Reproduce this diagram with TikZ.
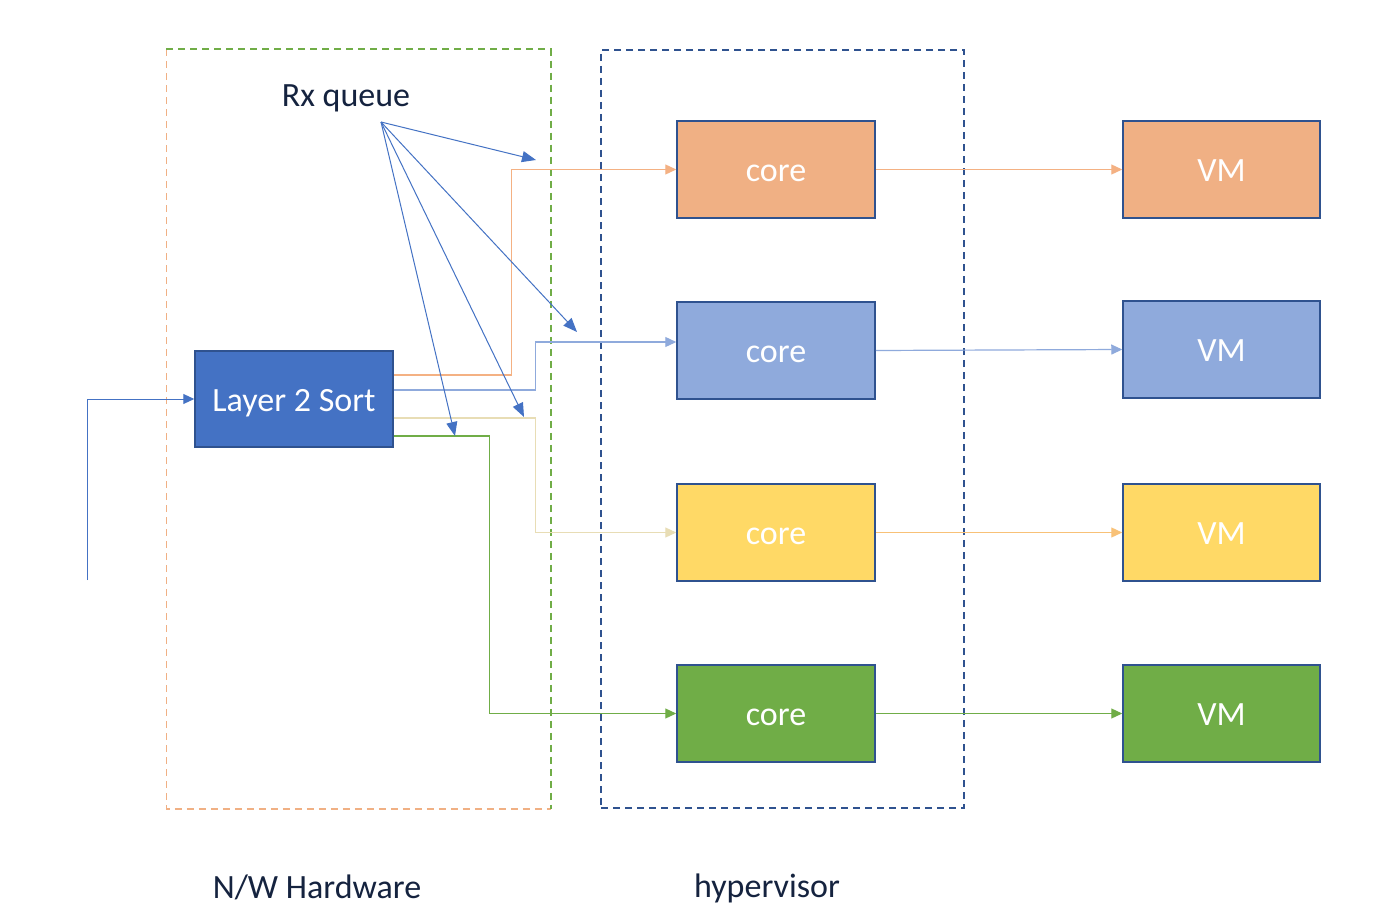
\documentclass[tikz,border=0pt]{standalone}
\usepackage{fontspec}
\setmainfont{Carlito}
\usetikzlibrary{arrows.meta,calc}
\definecolor{corange}{HTML}{F0B084}
\definecolor{cblue}{HTML}{8FAADC}
\definecolor{cyellow}{HTML}{FFD966}
\definecolor{cgreen}{HTML}{70AD47}
\definecolor{sortblue}{HTML}{4472C4}
\definecolor{edge}{HTML}{2F528F}
\definecolor{navy}{HTML}{15233F}
\definecolor{beige}{HTML}{E8DDB5}
\definecolor{lorange}{HTML}{F4B183}
\tikzset{
  big/.style={font=\fontsize{34}{40}\selectfont},
  box/.style={draw=edge, line width=1.5pt, minimum width=198pt, minimum height=97pt, inner sep=0pt, text height=28pt, text depth=4pt, text=white, big},
  frame/.style={line width=1.5pt, dash pattern=on 7pt off 5pt, minimum width=#1, inner sep=0pt},
  framedash/.style={line width=1.5pt, dash pattern=on 7pt off 5pt},
  conn/.style={line width=1.2pt, -{Triangle[length=11pt,width=10pt]}},
  rxarrow/.style={draw=sortblue, line width=1pt, -{Triangle[length=14pt,width=11pt]}},
  label/.style={text=navy, big}
}
\begin{document}
\begin{tikzpicture}[x=1pt,y=-1pt]
\useasboundingbox[fill=white] (0,0) rectangle (1400,915);

% frames
\node[frame=383pt, minimum height=758pt] (hw) at (358.5,429) {};
\draw[framedash, corange] (hw.north west) -- (hw.south west) -- (hw.south east);
\draw[framedash, cgreen] (hw.north west) -- (hw.north east) -- (hw.south east);
\node[frame=363pt, minimum height=758pt, draw=edge] (hyp) at (782.5,429) {};

% nodes
\node[box, fill=sortblue, minimum width=198pt, minimum height=96pt] (sort) at (294,399) {Layer 2 Sort};
\node[box, fill=corange] (core1) at (776,169.5) {core};
\node[box, fill=cblue]   (core2) at (776,350.5) {core};
\node[box, fill=cyellow] (core3) at (776,532.5) {core};
\node[box, fill=cgreen]  (core4) at (776,713.5) {core};
\node[box, minimum width=197pt, fill=corange] (vm1) at (1221.5,169.5) {VM};
\node[box, minimum width=197pt, fill=cblue]   (vm2) at (1221.5,349.5) {VM};
\node[box, minimum width=197pt, fill=cyellow] (vm3) at (1221.5,532.5) {VM};
\node[box, minimum width=197pt, fill=cgreen]  (vm4) at (1221.5,713.5) {VM};

% labels
\node[label] (rxq) at (346,98) {Rx queue};
\node[label] (nwh) at (317,887) {N/W Hardware};
\node[label] (hv) at (767,888) {hypervisor};

% input
\coordinate (in) at (87,580);
\draw[conn, draw=sortblue, line width=1pt] (in) |- (sort.west);

% sort -> cores
\draw[conn, draw=lorange] ([yshift=24pt]sort.east) -| ($(core1.west)+(-165,0)$) -- (core1.west);
\draw[conn, draw=cblue] ([yshift=9pt]sort.east) -| ($([yshift=8.5pt]core2.west)+(-141,0)$) -- ([yshift=8.5pt]core2.west);
\draw[conn, draw=beige] ([yshift=-19pt]sort.east) -| ($(core3.west)+(-141,0)$) -- (core3.west);
\draw[conn, draw=cgreen] ([yshift=-37pt]sort.east) -| ($(core4.west)+(-187,0)$) -- (core4.west);

% cores -> VMs
\draw[conn, draw=lorange] (core1.east) -- (vm1.west);
\draw[conn, draw=cblue] (core2.east) -- (vm2.west);
\draw[conn, draw=lorange!60!cyellow] (core3.east) -- (vm3.west);
\draw[conn, draw=cgreen] (core4.east) -- (vm4.west);

% Rx queue pointers
\coordinate (rx) at (381,122);
\coordinate (t1) at (536,160);
\coordinate (t2) at (577,332);
\coordinate (t3) at (524,417);
\coordinate (t4) at (455,436);
\foreach \t in {t1,t2,t3,t4} \draw[rxarrow] (rx) -- (\t);
\end{tikzpicture}
\end{document}
